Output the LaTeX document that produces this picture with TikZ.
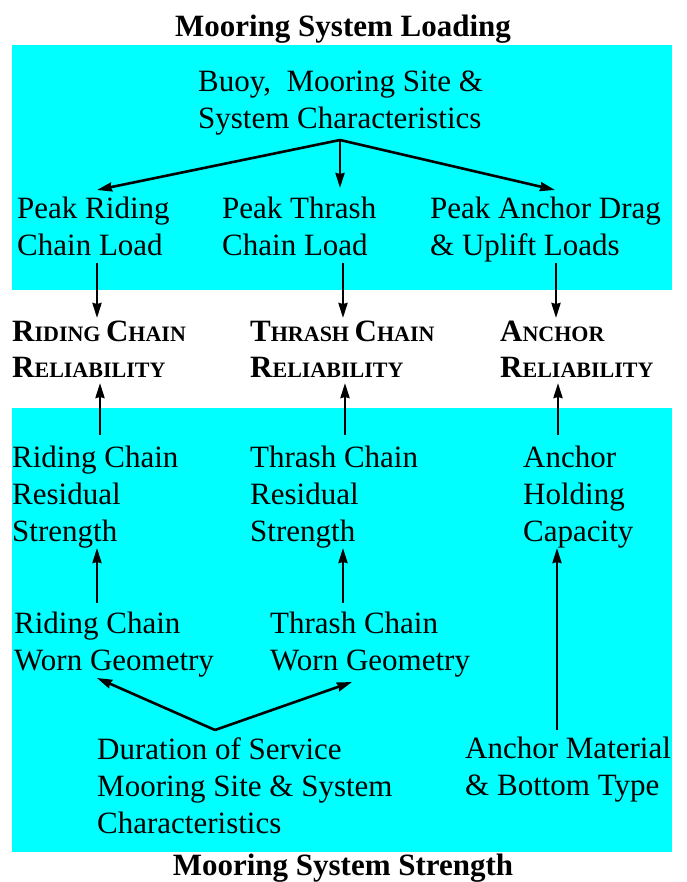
\documentclass[tikz,border=0pt]{standalone}
\usepackage{fontspec}
\setmainfont{Liberation Serif}
\usetikzlibrary{arrows.meta}
\definecolor{boxcyan}{RGB}{0,255,255}
\newcommand{\bigsc}[1]{{\fontsize{31}{36}\selectfont #1}}
\newcommand{\smsc}[1]{{\fontsize{22}{36}\selectfont #1}}
\tikzset{
  txt/.style={anchor=north west, inner sep=0pt, align=left, font=\fontsize{31}{37}\selectfont},
  ttl/.style={anchor=base, inner sep=0pt, font=\fontsize{31}{37}\selectfont\bfseries},
  rel/.style={anchor=north west, inner sep=0pt, align=left, font=\fontsize{31}{36}\selectfont\bfseries},
  arr/.style={line width=2.6pt, -{Stealth[length=15pt,width=9pt,inset=1pt]}},
  ln/.style={line width=2.6pt}
}
\begin{document}
\begin{tikzpicture}[x=1pt,y=-1pt]
\useasboundingbox (0,0) rectangle (686,882);
\fill[boxcyan] (12,45) rectangle (672,290);
\fill[boxcyan] (12,408) rectangle (672,852);
\node[ttl] (t1) at (343,37) {Mooring System Loading};
\node[ttl] (t2) at (343,875) {Mooring System Strength};
\node[txt] (buoy) at (198,71) {Buoy,\ \ Mooring Site \&\\System Characteristics};
\node[txt] (pr) at (17,197) {Peak Riding\\Chain Load};
\node[txt] (pt) at (222,197) {Peak Thrash\\Chain Load};
\node[txt] (pa) at (430,197) {Peak Anchor Drag\\\& Uplift Loads};
\node[rel] (rr) at (12,321) {\bigsc{R}\smsc{IDING }\bigsc{C}\smsc{HAIN}\\\bigsc{R}\smsc{ELIABILITY}};
\node[rel] (tr) at (250,321) {\bigsc{T}\smsc{HRASH }\bigsc{C}\smsc{HAIN}\\\bigsc{R}\smsc{ELIABILITY}};
\node[rel] (ar) at (500,321) {\bigsc{A}\smsc{NCHOR}\\\bigsc{R}\smsc{ELIABILITY}};
\node[txt] (rs) at (12,446) {Riding Chain\\Residual\\Strength};
\node[txt] (ts) at (250,446) {Thrash Chain\\Residual\\Strength};
\node[txt] (ac) at (523,446) {Anchor\\Holding\\Capacity};
\node[txt] (rw) at (14,612) {Riding Chain\\Worn Geometry};
\node[txt] (tw) at (270,612) {Thrash Chain\\Worn Geometry};
\node[txt] (ds) at (97,737) {Duration of Service\\Mooring Site \& System\\Characteristics};
\node[txt] (am) at (465,737) {Anchor Material\\\& Bottom Type};
% connector points
\coordinate (apex) at (340,140);
\coordinate (prT) at (97,190);
\coordinate (ptT) at (340,188);
\coordinate (paT) at (555,190);
\coordinate (prB) at (97,263);
\coordinate (ptB) at (343,263);
\coordinate (paB) at (556,263);
\coordinate (rrT) at (97,318);
\coordinate (trT) at (343,318);
\coordinate (arT) at (556,318);
\coordinate (rrB) at (100,383);
\coordinate (trB) at (345,383);
\coordinate (arB) at (558,383);
\coordinate (rsT) at (100,435);
\coordinate (tsT) at (345,435);
\coordinate (acT) at (558,435);
\coordinate (rsB) at (97,548);
\coordinate (tsB) at (343,548);
\coordinate (acB) at (557,548);
\coordinate (rwT) at (97,603);
\coordinate (twT) at (343,603);
\coordinate (amT) at (557,730);
\coordinate (apex2) at (215,730);
\coordinate (rwB) at (97,678);
\coordinate (twB) at (352,682);
\draw[arr] (apex) -- (prT);
\draw[arr] (apex) -- (ptT);
\draw[arr] (apex) -- (paT);
\draw[arr] (prB) -- (rrT);
\draw[arr] (ptB) -- (trT);
\draw[arr] (paB) -- (arT);
\draw[arr] (rsT) -- (rrB);
\draw[arr] (tsT) -- (trB);
\draw[arr] (acT) -- (arB);
\draw[arr] (rwT) -- (rsB);
\draw[arr] (twT) -- (tsB);
\draw[arr] (amT) -- (acB);
\draw[arr] (apex2) -- (rwB);
\draw[arr] (apex2) -- (twB);
\end{tikzpicture}
\end{document}
